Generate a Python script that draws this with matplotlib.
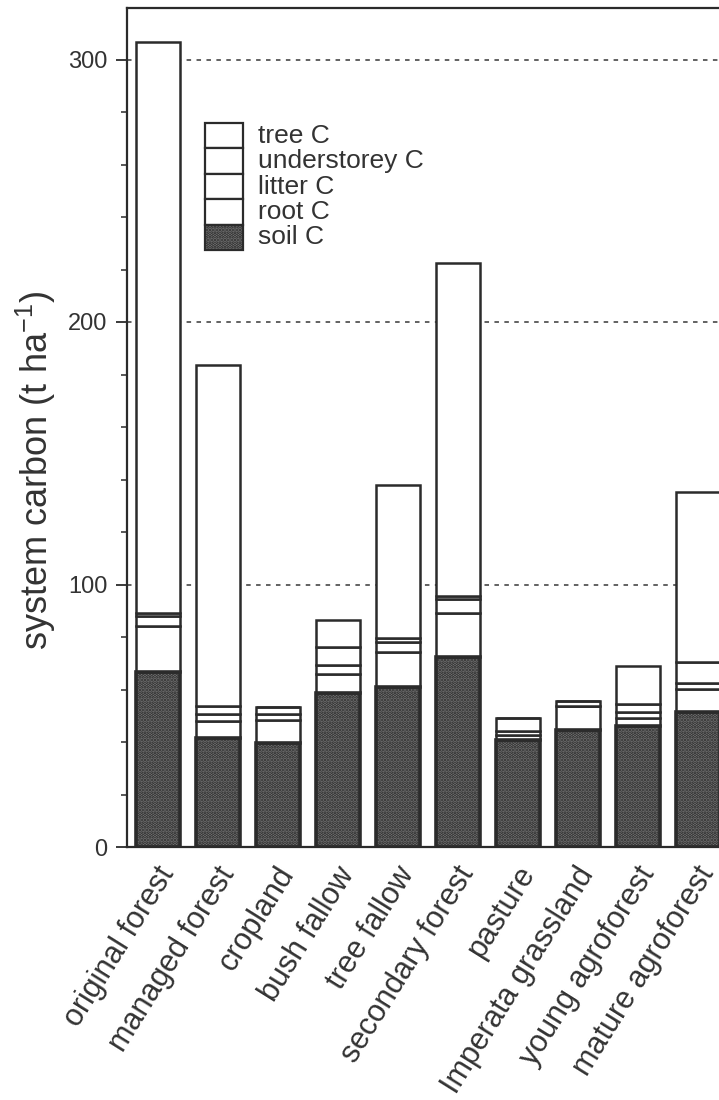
import matplotlib
matplotlib.use('Agg')
import matplotlib.pyplot as plt
import numpy as np
from matplotlib.patches import Rectangle
from matplotlib.ticker import MultipleLocator
from matplotlib.transforms import ScaledTranslation

categories = ['original forest', 'managed forest', 'cropland', 'bush fallow',
              'tree fallow', 'secondary forest', 'pasture', 'Imperata grassland',
              'young agroforest', 'mature agroforest']
soil_c = [66.7, 41.5, 39.6, 58.7, 61.0, 72.4, 40.8, 44.6, 46.1, 51.4]
root_c = [17.5, 6.5, 8.8, 7.2, 13.3, 16.7, 1.9, 9.1, 3.0, 8.8]
litter_c = [3.8, 2.7, 2.3, 3.4, 3.8, 5.4, 1.5, 0.0, 2.3, 2.3]
understorey_c = [1.1, 3.0, 2.7, 6.9, 1.5, 1.1, 5.0, 1.9, 3.1, 8.0]
tree_c = [217.6, 130.0, 0.0, 10.3, 58.3, 126.9, 0.0, 0.0, 14.5, 64.7]
y_ticks = [0, 100, 200, 300]
legend_labels = ['tree C', 'understorey C', 'litter C', 'root C', 'soil C']

plt.rcParams['font.family'] = ['Liberation Sans', 'DejaVu Sans']
plt.rcParams['hatch.linewidth'] = 1.8

LC = '#2b2b2b'
TC = '#333333'
SOIL_FACE = '#7c7c7c'
SOIL_DOT = '#262626'

fig = plt.figure(figsize=(7.19, 11.0), dpi=100)
fig.patch.set_facecolor('white')
ax = fig.add_axes([127 / 719, 253 / 1100, 1 - 127 / 719, 839 / 1100])

x = np.arange(len(categories))
w = 0.733

# dashed reference lines
for yv in [100, 200, 300]:
    ax.axhline(yv, color='#555555', ls=(0, (2.5, 3.0)), lw=1.3, zorder=0)

# soil (stippled)
ax.bar(x, soil_c, width=w, facecolor=SOIL_FACE, edgecolor=SOIL_DOT,
       hatch='.....', linewidth=0, zorder=2)
ax.bar(x, soil_c, width=w, fill=False, edgecolor=LC, linewidth=2.6, zorder=3)

bottom = np.array(soil_c, dtype=float)
for seg in [root_c, litter_c, understorey_c, tree_c]:
    vals = np.array(seg, dtype=float)
    ax.bar(x, vals, bottom=bottom, width=w, facecolor='white', edgecolor=LC,
           linewidth=1.8, zorder=2)
    bottom = bottom + vals

ax.set_xlim(-31 / 60, 9.35)
ax.set_ylim(0, 839 / 2.625)
ax.set_yticks(y_ticks)
ax.yaxis.set_minor_locator(MultipleLocator(20))
ax.tick_params(axis='y', which='major', length=8, width=1.3, direction='out',
               labelsize=17, labelcolor=TC, color=LC, pad=6)
ax.tick_params(axis='y', which='minor', length=4, width=1.1, direction='out', color=LC)
ax.set_xticks(x)
ax.set_xticklabels(categories, rotation=58, ha='right', va='center',
                   rotation_mode='anchor', fontsize=22, color=TC)
ax.tick_params(axis='x', length=0, pad=16)
for lab in ax.get_xticklabels():
    lab.set_transform(lab.get_transform() + ScaledTranslation(0.10, 0, fig.dpi_scale_trans))

for s in ['left', 'bottom', 'top']:
    ax.spines[s].set_color(LC)
    ax.spines[s].set_linewidth(1.6)
ax.spines['right'].set_visible(False)

ax.set_ylabel('system carbon (t ha$^{\\mathregular{-1}}$)', fontsize=26, color=TC)
ax.yaxis.set_label_coords(-0.116, 0.449)

# legend (stacked boxes)
bx, bw = (205 - 127) / 592, 38 / 592
top = (847 - 123) / 839
rh = 25.4 / 839
for i, lab in enumerate(legend_labels):
    y0 = top - (i + 1) * rh
    if lab == 'soil C':
        ax.add_patch(Rectangle((bx, y0), bw, rh, transform=ax.transAxes,
                               facecolor=SOIL_FACE, edgecolor=SOIL_DOT,
                               hatch='.....', linewidth=0, zorder=4))
        ax.add_patch(Rectangle((bx, y0), bw, rh, transform=ax.transAxes,
                               fill=False, edgecolor=LC, linewidth=1.6, zorder=5))
    else:
        ax.add_patch(Rectangle((bx, y0), bw, rh, transform=ax.transAxes,
                               facecolor='white', edgecolor=LC, linewidth=1.6, zorder=4))
    ax.text((258 - 127) / 592, y0 + rh / 2, lab, transform=ax.transAxes,
            ha='left', va='center', fontsize=19, color=TC, zorder=5)

fig.savefig('out.png', dpi=100, facecolor='white')
